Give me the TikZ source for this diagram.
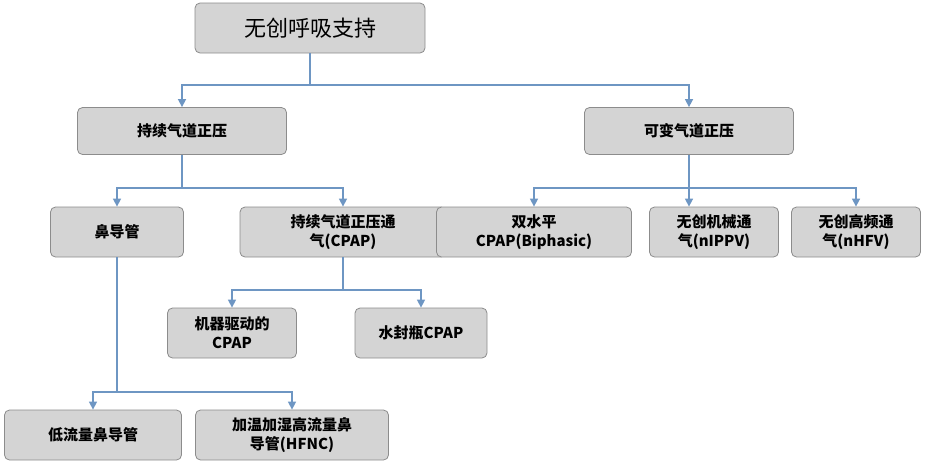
\documentclass[tikz,border=0pt]{standalone}
\usepackage{fontspec}
\setmainfont{Noto Sans CJK SC}
\usetikzlibrary{arrows.meta}
\definecolor{boxfill}{RGB}{212,212,212}
\definecolor{boxline}{RGB}{140,140,140}
\definecolor{linkcol}{RGB}{110,150,195}
\begin{document}
\begin{tikzpicture}[x=1pt,y=-1pt,
	box/.style = {shape=rectangle, rounded corners=5pt, draw=boxline, fill=boxfill,
	  align=center, font=\fontsize{15}{19}\selectfont\bfseries, inner sep=0pt, line width=0.8pt},
	link/.style = {draw=linkcol, line width=1.5pt, -{Triangle[length=8pt,width=8pt]}}
	]
  \useasboundingbox (0,0) rectangle (926,467);
  % top level
  \node [box, minimum width=230, minimum height=50, font=\fontsize{22}{26}\selectfont] (root) at (310,28) {无创呼吸支持};
  \node [box, minimum width=209, minimum height=47] (cpos) at (182,131) {持续气道正压};
  \node [box, minimum width=209, minimum height=47] (vpos) at (689,131) {可变气道正压};
  % second level
  \node [box, minimum width=133, minimum height=50] (nasal) at (117,232) {鼻导管};
  \node [box, minimum width=206, minimum height=50] (cpap) at (343,232) {持续气道正压通\\气(CPAP)};
  \node [box, minimum width=195, minimum height=50] (bi) at (534,232) {双水平\\CPAP(Biphasic)};
  \node [box, minimum width=129, minimum height=50] (nippv) at (714,232) {无创机械通\\气(nIPPV)};
  \node [box, minimum width=129, minimum height=50] (nhfv) at (856,232) {无创高频通\\气(nHFV)};
  % third level
  \node [box, minimum width=129, minimum height=50] (mach) at (232,333) {机器驱动的\\CPAP};
  \node [box, minimum width=132, minimum height=50] (water) at (421,333) {水封瓶CPAP};
  \node [box, minimum width=177, minimum height=50] (low) at (93,435) {低流量鼻导管};
  \node [box, minimum width=193, minimum height=50] (hfnc) at (292,435) {加温加湿高流量鼻\\导管(HFNC)};
  % connectors
  \coordinate (j1) at (310,85);
  \coordinate (j2) at (182,188);
  \coordinate (j3) at (689,188);
  \coordinate (j4) at (343,290);
  \coordinate (j5) at (117,392);
  \draw [draw=linkcol, line width=1.5pt] (root.south) -- (j1);
  \draw [link] (j1) -| (cpos.north);
  \draw [link] (j1) -| (vpos.north);
  \draw [draw=linkcol, line width=1.5pt] (cpos.south) -- (j2);
  \draw [link] (j2) -| (nasal.north);
  \draw [link] (j2) -| (cpap.north);
  \draw [draw=linkcol, line width=1.5pt] (vpos.south) -- (j3);
  \draw [link] (j3) -| (bi.north);
  \draw [link] (j3) -- (j3 |- nippv.north);
  \draw [link] (j3) -| (nhfv.north);
  \draw [draw=linkcol, line width=1.5pt] (cpap.south) -- (j4);
  \draw [link] (j4) -| (mach.north);
  \draw [link] (j4) -| (water.north);
  \draw [draw=linkcol, line width=1.5pt] (nasal.south) -- (j5);
  \draw [link] (j5) -| (low.north);
  \draw [link] (j5) -| (hfnc.north);
\end{tikzpicture}
\end{document}
